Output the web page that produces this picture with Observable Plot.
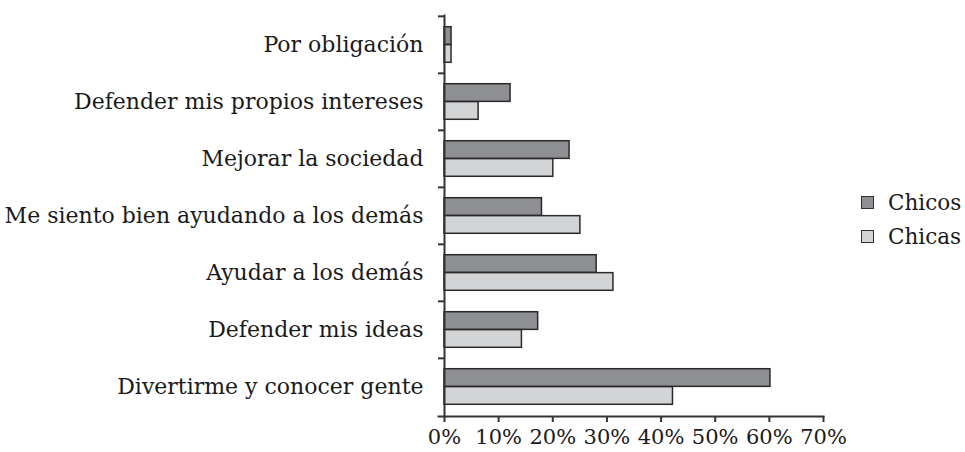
<!DOCTYPE html>
<html><head><meta charset="utf-8">
<script src="https://cdn.jsdelivr.net/npm/d3@7"></script>
<script src="https://cdn.jsdelivr.net/npm/@observablehq/plot@0.6"></script>
<style>
body{margin:0;background:#fff;}
#wrap{position:relative;width:965px;height:452px;color:#1a1a1a;}
.legend{position:absolute;left:861px;font-family:'DejaVu Serif',serif;font-size:21.5px;display:flex;align-items:center;line-height:1;color:#1a1a1a;}
.sw{width:11px;height:11px;border:1.5px solid #333;margin-right:14px;}
</style></head><body><div id="wrap"></div>
<script>
const categories = ["Por obligación", "Defender mis propios intereses", "Mejorar la sociedad", "Me siento bien ayudando a los demás", "Ayudar a los demás", "Defender mis ideas", "Divertirme y conocer gente"];
const chicos = [1.3, 12.2, 23.1, 18.0, 28.1, 17.3, 60.2];
const chicas = [1.3, 6.3, 20.1, 25.1, 31.2, 14.3, 42.2];
const series = ["Chicos", "Chicas"];
const colors = ["#8e8f93", "#d3d4d6"];
const xTicks = [0, 10, 20, 30, 40, 50, 60, 70];

const width = 965, height = 452, marginTop = 15, marginBottom = 36, marginLeft = 444, marginRight = 142;
const step = (height - marginTop - marginBottom) / categories.length;
const pad = 0.187 * step, barH = 0.313 * step;
const rows = categories.map((c, i) => ({category: c, Chicos: chicos[i], Chicas: chicas[i]}));

const plot = Plot.plot({
  width, height, marginTop, marginBottom, marginLeft, marginRight,
  style: {fontFamily: "DejaVu Serif, serif", fontSize: "21px", color: "#1a1a1a", background: "#fff"},
  x: {domain: [0, 70], axis: null, label: null},
  y: {domain: categories, padding: 0, axis: null, label: null},
  marks: [
    Plot.barX(rows, {x: series[0], y: "category", fill: colors[0], stroke: "#2a2a2a", strokeWidth: 1.5,
      insetTop: pad, insetBottom: step - pad - barH}),
    Plot.barX(rows, {x: series[1], y: "category", fill: colors[1], stroke: "#2a2a2a", strokeWidth: 1.5,
      insetTop: pad + barH, insetBottom: pad}),
    Plot.axisY({tickSize: 0, tickPadding: 21, fontSize: 22, label: null}),
    Plot.axisY({tickSize: 6, tickFormat: () => "", dy: -step / 2, strokeWidth: 2, stroke: "#333", label: null}),
    Plot.frame({anchor: "left", stroke: "#333", strokeWidth: 2}),
    Plot.frame({anchor: "bottom", stroke: "#333", strokeWidth: 2, insetLeft: -6}),
    Plot.axisX({ticks: xTicks, tickFormat: d => d + "%", tickSize: 6, tickPadding: 7, strokeWidth: 2, stroke: "#333", fontSize: 21, label: null})
  ]
});
const wrap = document.getElementById("wrap");
wrap.appendChild(plot);
series.forEach((s, i) => {
  const d = document.createElement("div");
  d.className = "legend";
  d.style.top = (192 + i * 34) + "px";
  d.innerHTML = `<span class="sw" style="background:${colors[i]}"></span><span>${s}</span>`;
  wrap.appendChild(d);
});
</script></body></html>
